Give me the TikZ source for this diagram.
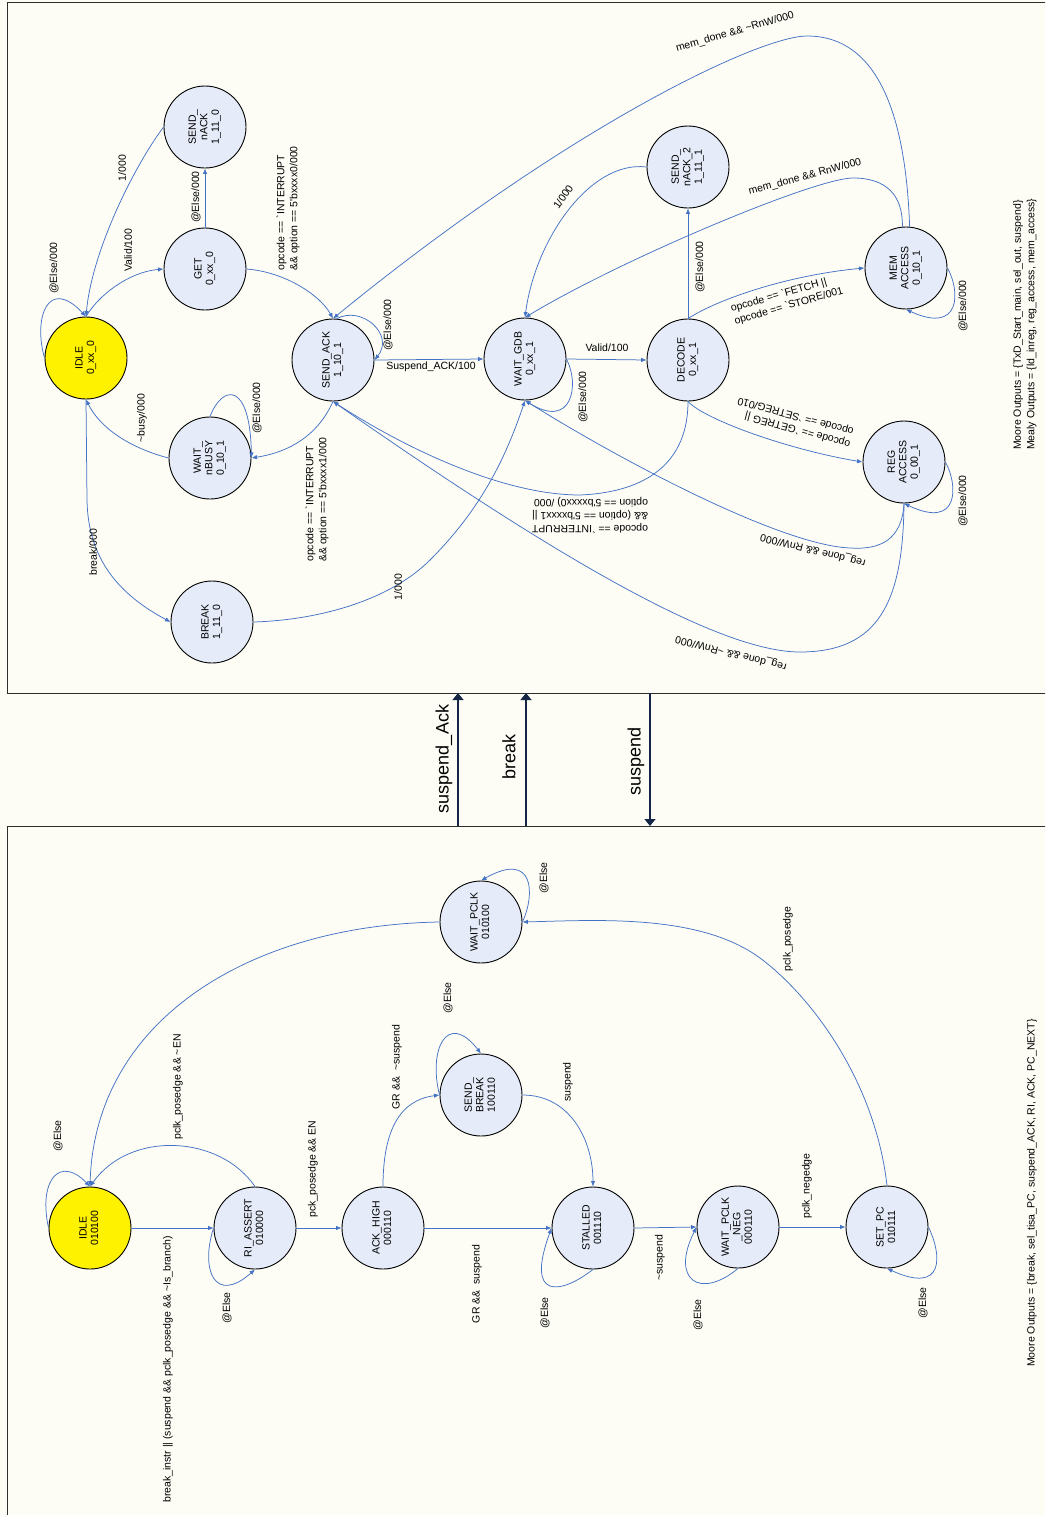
\documentclass[tikz,border=0pt]{standalone}
\usepackage{graphicx}
\usepackage{fontspec}
\setmainfont{Liberation Sans}[Ligatures=TeXOff]
\usetikzlibrary{arrows.meta}
\definecolor{bgc}{RGB}{253,253,246}
\definecolor{stfill}{RGB}{229,235,248}
\definecolor{edgeblue}{RGB}{68,114,196}
\definecolor{navy}{RGB}{22,38,70}
\definecolor{framec}{RGB}{45,45,45}
\newcommand\tld{\textasciitilde}
\newcommand\rtxt[1]{\rotatebox{90}{\begin{tabular}{@{}c@{}}#1\end{tabular}}}

\begin{document}
\begin{tikzpicture}[x=1pt,y=-1pt,
  stnode/.style={circle,draw=black,line width=0.9pt,fill=stfill,minimum size=82pt,inner sep=0pt,font=\fontsize{10.5}{11.5}\selectfont},
  initst/.style={stnode,fill=yellow},
  trans/.style={draw=edgeblue,line width=0.75pt,-{Latex[length=5.5pt,width=4.5pt]}},
  lbl/.style={inner sep=0pt,font=\fontsize{10.5}{13}\selectfont},
  vlbl/.style={lbl,rotate=90},
  sig/.style={draw=navy,line width=1.3pt,-{Triangle[length=7pt,width=11pt]}},
  siglbl/.style={inner sep=0pt,rotate=90,font=\fontsize{18}{20}\selectfont},
  boxline/.style={draw=framec,line width=1pt}]

\useasboundingbox (0,0) rectangle (1045,1515);
\fill[bgc] (0,0) rectangle (1045,1515);
\begin{scope}
  \clip (0,0) rectangle (1045,1515);
  \draw[boxline] (7,2) rectangle (1070,693);
  \draw[boxline] (7,826) rectangle (1070,1540);
\end{scope}

% ---------------- upper state machine ----------------
\node[initst] (idle) at (86,358) {\rtxt{IDLE\\0\_xx\_0}};
\node[stnode] (get) at (205,269) {\rtxt{GET\\0\_xx\_0}};
\node[stnode] (snack) at (205,127) {\rtxt{SEND\_\\nACK\\1\_11\_0}};
\node[stnode] (sack) at (333,360) {\rtxt{SEND\_ACK\\1\_10\_1}};
\node[stnode] (wgdb) at (525,359) {\rtxt{WAIT\_GDB\\0\_xx\_1}};
\node[stnode] (wnb) at (210,458) {\rtxt{WAIT\_\\nBUSY\\0\_10\_1}};
\node[stnode] (brk) at (212,622) {\rtxt{BREAK\\1\_11\_0}};
\node[stnode] (snack2) at (688,167) {\rtxt{SEND\_\\nACK\_2\\1\_11\_1}};
\node[stnode] (mem) at (906,268) {\rtxt{MEM\\ACCESS\\0\_10\_1}};
\node[stnode] (dec) at (688,360) {\rtxt{DECODE\\0\_xx\_1}};
\node[stnode] (reg) at (904,462) {\rtxt{REG\\ACCESS\\0\_00\_1}};

\draw[trans] (idle.west) .. controls (33,318) and (48,276) .. (idle.north);
\draw[trans] (idle.north) .. controls (98,296) and (128,272) .. (get.west);
\draw[trans] (snack.west) .. controls (135,165) and (92,250) .. (idle.north);
\draw[trans] (get.north) -- (snack.south);
\draw[trans] (get.east) .. controls (285,272) and (320,295) .. (sack.north);
\draw[trans] (sack.85) .. controls (362,305) and (395,335) .. (sack.east);
\draw[trans] (sack.east) -- (wgdb.west);
\draw[trans] (wgdb.east) .. controls (580,385) and (572,430) .. (wgdb.south);
\draw[trans] (wgdb.east) -- (dec.west);
\draw[trans] (dec.north) -- (snack2.south);
\draw[trans] (snack2.west) .. controls (590,160) and (535,240) .. (wgdb.north);
\draw[trans] (mem.95) .. controls (903,195) and (886,178) .. (853,178)
             .. controls (815,178) and (620,260) .. (wgdb.north);
\draw[trans] (mem.85) .. controls (906,120) and (880,36) .. (807,36)
             .. controls (760,36) and (570,125) .. (sack.north);
\draw[trans] (dec.north) .. controls (720,298) and (790,275) .. (mem.west);
\draw[trans] (dec.south) .. controls (705,420) and (790,450) .. (reg.west);
\draw[trans] (mem.east) .. controls (960,290) and (962,335) .. (mem.south);
\draw[trans] (reg.east) .. controls (958,485) and (960,530) .. (reg.south);
\draw[trans] (reg.south) .. controls (902,540) and (880,550) .. (850,548)
             .. controls (780,545) and (620,460) .. (wgdb.south);
\draw[trans] (reg.south) .. controls (903,600) and (880,652) .. (800,652)
             .. controls (720,652) and (560,560) .. (sack.south);
\draw[trans] (dec.south) .. controls (688,460) and (650,492) .. (580,495)
             .. controls (500,495) and (400,445) .. (sack.south);
\draw[trans] (sack.south) .. controls (318,435) and (290,452) .. (wnb.east);
\draw[trans] (wnb.north) .. controls (222,385) and (250,380) .. (wnb.east);
\draw[trans] (wnb.west) .. controls (130,448) and (100,428) .. (idle.south);
\draw[trans] (idle.south) -- (87,500) .. controls (88,560) and (120,595) .. (brk.west);
\draw[trans] (brk.east) .. controls (320,620) and (390,600) .. (430,560)
             .. controls (480,510) and (505,460) .. (wgdb.south);

\node[vlbl] (t1) at (54,268) {@Else/000};
\node[vlbl] (t2) at (128,250) {Valid/100};
\node[vlbl] (t3) at (122,168) {1/000};
\node[vlbl] (t4) at (196,197) {@Else/000};
\node[vlbl,anchor=west,align=left] (t5) at (288,271) {opcode == `INTERRUPT\\\&\& option == 5'bxxxx0/000};
\node[vlbl] (t6) at (388,325) {@Else/000};
\node[lbl] (t7) at (431,367) {Suspend\_ACK/100};
\node[vlbl] (t8) at (583,397) {@Else/000};
\node[lbl] (t9) at (607,348) {Valid/100};
\node[vlbl] (t10) at (700,267) {@Else/000};
\node[lbl,rotate=55] (t11) at (563,197) {1/000};
\node[lbl,rotate=15] (t12) at (805,177) {mem\_done \&\& RnW/000};
\node[lbl,rotate=16] (t13) at (735,32) {mem\_done \&\& \tld RnW/000};
\node[lbl,rotate=16,align=left] (t14) at (787,300) {opcode == `FETCH ||\\opcode == `STORE/001};
\node[lbl,rotate=165,align=left] (t15) at (794,422) {opcode == `GETREG ||\\opcode == `SETREG/010};
\node[vlbl] (t16) at (963,306) {@Else/000};
\node[vlbl] (t17) at (963,501) {@Else/000};
\node[lbl,rotate=166] (t18) at (813,550) {reg\_done \&\& RnW/000};
\node[lbl,rotate=166] (t19) at (731,653) {reg\_done \&\& \tld RnW/000};
\node[lbl,rotate=180,align=left] (t20) at (590,515) {opcode == `INTERRUPT\\\&\& (option == 5'bxxxx1 ||\\option == 5'bxxxx0) /000};
\node[vlbl,anchor=west,align=left] (t21) at (317,562) {opcode == `INTERRUPT\\\&\& option == 5'bxxxx1/000};
\node[vlbl] (t22) at (257,408) {@Else/000};
\node[vlbl] (t23) at (142,418) {\tld busy/000};
\node[vlbl] (t24) at (93,552) {break/000};
\node[vlbl] (t25) at (398,587) {1/000};
\node[vlbl,anchor=west,align=left,font=\fontsize{10.5}{13.5}\selectfont] (mtop) at (1025,450)
  {Moore Outputs = \{TxD\_Start\_main, sel\_out, suspend\}\\Mealy Outputs = \{ld\_inreg, reg\_access, mem\_access\}};

% ---------------- signals between the two machines ----------------
\coordinate (sa-lo) at (458,826); \coordinate (sa-hi) at (458,693);
\coordinate (br-lo) at (526,826); \coordinate (br-hi) at (526,693);
\coordinate (su-hi) at (650,693); \coordinate (su-lo) at (650,826);
\draw[sig] (sa-lo) -- (sa-hi);
\draw[sig] (br-lo) -- (br-hi);
\draw[sig] (su-hi) -- (su-lo);
\node[siglbl] (m1) at (444,759) {suspend\_Ack};
\node[siglbl] (m2) at (509,757) {break};
\node[siglbl] (m3) at (636,761) {suspend};

% ---------------- lower state machine ----------------
\node[initst] (bidle) at (90,1228) {\rtxt{IDLE\\010100}};
\node[stnode] (ri) at (255,1228) {\rtxt{RI\_ASSERT\\010000}};
\node[stnode] (ack) at (383,1228) {\rtxt{ACK\_HIGH\\000110}};
\node[stnode] (sbrk) at (481,1095) {\rtxt{SEND\_\\BREAK\\100110}};
\node[stnode] (stall) at (593,1228) {\rtxt{STALLED\\001110}};
\node[stnode] (wpn) at (738,1227) {\rtxt{WAIT\_PCLK\\\_NEG\\000110}};
\node[stnode] (setpc) at (887,1227) {\rtxt{SET\_PC\\010111}};
\node[stnode] (wpclk) at (481,922) {\rtxt{WAIT\_PCLK\\010100}};

\draw[trans] (bidle.west) .. controls (38,1180) and (60,1155) .. (bidle.north);
\draw[trans] (bidle.east) -- (ri.west);
\draw[trans] (ri.west) .. controls (200,1270) and (215,1305) .. (ri.south);
\draw[trans] (ri.north) .. controls (220,1135) and (130,1130) .. (bidle.north);
\draw[trans] (ri.east) -- (ack.west);
\draw[trans] (ack.north) .. controls (383,1130) and (400,1100) .. (sbrk.west);
\draw[trans] (sbrk.west) .. controls (428,1050) and (447,1010) .. (sbrk.north);
\draw[trans] (sbrk.east) .. controls (570,1095) and (593,1140) .. (stall.north);
\draw[trans] (ack.east) -- (stall.west);
\draw[trans] (stall.south) .. controls (560,1295) and (525,1300) .. (stall.west);
\draw[trans] (stall.east) -- (wpn.west);
\draw[trans] (wpn.south) .. controls (700,1300) and (670,1280) .. (wpn.west);
\draw[trans] (wpn.east) -- (setpc.west);
\draw[trans] (setpc.east) .. controls (942,1255) and (945,1295) .. (setpc.south);
\draw[trans] (setpc.north) .. controls (875,1080) and (810,995) .. (760,958)
             .. controls (700,914) and (600,920) .. (wpclk.east);
\draw[trans] (wpclk.east) .. controls (535,895) and (535,850) .. (wpclk.north);
\draw[trans] (wpclk.west) .. controls (250,925) and (95,1020) .. (bidle.north);

\node[vlbl] (b1) at (58,1136) {@Else};
\node[vlbl,anchor=west] (b2) at (168,1503) {break\_instr || (suspend \&\& pclk\_posedge \&\& \tld Is\_branch)};
\node[vlbl] (b3) at (227,1308) {@Else};
\node[vlbl] (b4) at (178,1087) {pclk\_posedge \&\& \tld EN};
\node[vlbl] (b5) at (313,1169) {pck\_posedge \&\& EN};
\node[vlbl] (b6) at (397,1067) {GR \&\& \ \tld suspend};
\node[vlbl] (b7) at (448,998) {@Else};
\node[vlbl] (b8) at (568,1082) {suspend};
\node[vlbl] (b9) at (477,1284) {GR \&\& \ suspend};
\node[vlbl] (b10) at (545,1313) {@Else};
\node[vlbl] (b11) at (660,1258) {\tld suspend};
\node[vlbl] (b12) at (698,1315) {@Else};
\node[vlbl] (b13) at (807,1186) {pclk\_negedge};
\node[vlbl] (b14) at (923,1303) {@Else};
\node[vlbl] (b15) at (788,939) {pclk\_posedge};
\node[vlbl] (b16) at (544,878) {@Else};
\node[vlbl,anchor=west] (b17) at (1032,1367) {Moore Outputs = \{break, sel\_tisa\_PC, suspend\_ACK, RI, ACK, PC\_NEXT\}};

\end{tikzpicture}
\end{document}
